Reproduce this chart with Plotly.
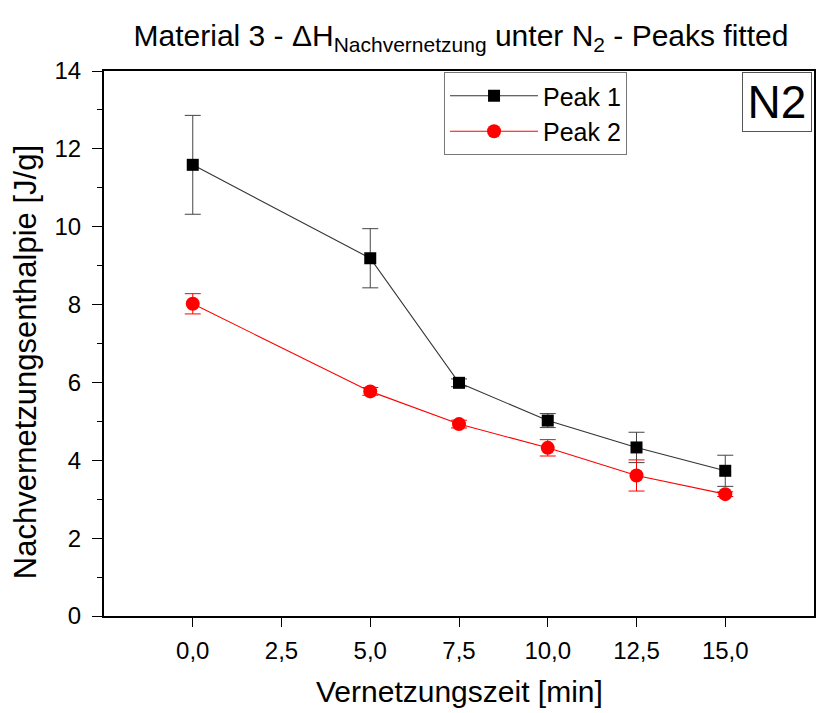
import plotly.graph_objects as go

# Data
time_min = [0.0, 5.0, 7.5, 10.0, 12.5, 15.0]
peak1 = [11.59, 9.19, 5.99, 5.02, 4.33, 3.73]
peak1_err = [1.27, 0.76, 0.10, 0.18, 0.39, 0.40]
peak2 = [8.02, 5.77, 4.93, 4.32, 3.61, 3.13]
peak2_err = [0.26, 0.10, 0.10, 0.21, 0.40, 0.06]

x_ticks = [0.0, 2.5, 5.0, 7.5, 10.0, 12.5, 15.0]
x_tick_labels = ["0,0", "2,5", "5,0", "7,5", "10,0", "12,5", "15,0"]
y_ticks = [0, 2, 4, 6, 8, 10, 12, 14]

FONT = "Arial, Liberation Sans, sans-serif"

W, H = 817, 713
L, R, T, B = 104, 1, 71, 97
pw, ph = W - L - R, H - T - B


def px_x(x):
    return (x - L) / pw


def px_y(y):
    return (H - B - y) / ph


fig = go.Figure()
fig.add_trace(go.Scatter(
    x=time_min, y=peak1, name="Peak 1", mode="lines+markers",
    line=dict(color="#333333", width=1.1),
    marker=dict(symbol="square", size=12, color="black"),
    error_y=dict(type="data", array=peak1_err, visible=True,
                 color="#444444", thickness=1, width=8),
))
fig.add_trace(go.Scatter(
    x=time_min, y=peak2, name="Peak 2", mode="lines+markers",
    line=dict(color="#ff0000", width=1.1),
    marker=dict(symbol="circle", size=14, color="#ff0000"),
    error_y=dict(type="data", array=peak2_err, visible=True,
                 color="#ff0000", thickness=1, width=8),
))

fig.update_layout(
    width=W, height=H,
    margin=dict(l=L, r=R, t=T, b=B),
    paper_bgcolor="white", plot_bgcolor="white",
    font=dict(family=FONT, color="black"),
    title=dict(
        text="Material 3 - ΔH<sub>Nachvernetzung</sub> unter N<sub>2</sub> - Peaks fitted",
        font=dict(size=30, family=FONT, color="black"),
        x=px_x(462), xref="paper", xanchor="center",
        y=1 - 35 / H, yref="container", yanchor="middle",
    ),
    showlegend=True,
    legend=dict(
        x=px_x(445), y=px_y(72), xanchor="left", yanchor="top",
        bordercolor="#777777", borderwidth=1, bgcolor="white",
        font=dict(size=25, family=FONT, color="black"),
        itemwidth=88, tracegroupgap=0,
    ),
    xaxis=dict(
        range=[-2.5, 17.5], tickvals=x_ticks, ticktext=x_tick_labels,
        ticks="outside", ticklen=9, tickwidth=1, tickcolor="black",
        showline=True, linecolor="black", linewidth=2, mirror=True,
        showgrid=False, zeroline=False,
        tickfont=dict(size=24, family=FONT, color="black"),
        ticklabelstandoff=3,
    ),
    yaxis=dict(
        range=[0, 14], tickvals=y_ticks,
        ticks="outside", ticklen=10, tickwidth=1, tickcolor="black",
        minor=dict(dtick=1, ticks="outside", ticklen=5, tickcolor="black", tickwidth=1),
        showline=True, linecolor="black", linewidth=2, mirror=True,
        showgrid=False, zeroline=False,
        tickfont=dict(size=24, family=FONT, color="black"),
        ticklabelstandoff=6,
    ),
    annotations=[
        dict(text="Vernetzungszeit [min]", xref="paper", yref="paper",
             x=0.5, y=px_y(691), xanchor="center", yanchor="middle",
             showarrow=False, font=dict(size=30, family=FONT, color="black")),
        dict(text="Nachvernetzungsenthalpie [J/g]", xref="paper", yref="paper",
             x=px_x(25), y=px_y(362), xanchor="center", yanchor="middle",
             textangle=-90, showarrow=False,
             font=dict(size=31, family=FONT, color="black")),
        dict(text="N2", xref="paper", yref="paper",
             x=px_x(779), y=px_y(102), xanchor="center", yanchor="middle",
             showarrow=False, bordercolor="#555555", borderwidth=1,
             bgcolor="white", width=64, height=54, borderpad=2,
             font=dict(size=46, family=FONT, color="black")),
    ],
)

fig.write_html("out.html")
